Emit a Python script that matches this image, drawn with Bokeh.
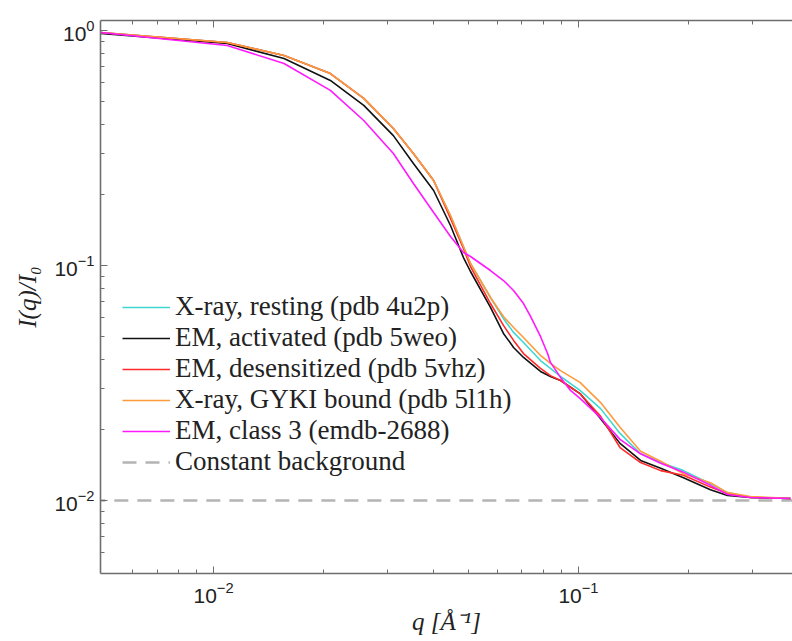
from bokeh.plotting import figure
from bokeh.models import (Range1d, LogAxis, FixedTicker, Legend, LegendItem,
                          CustomJSTickFormatter)
from bokeh.embed import file_html
from bokeh.resources import INLINE

# ---- data ----
q = [0.0049, 0.0109, 0.0156, 0.0209, 0.0258, 0.0311, 0.0353, 0.0401, 0.0446,
     0.0484, 0.0506, 0.0574, 0.0623, 0.0664, 0.0707, 0.0787, 0.0838, 0.0893,
     0.101, 0.115, 0.130, 0.148, 0.168, 0.194, 0.230, 0.256, 0.296, 0.381]

xray_resting = [0.981, 0.889, 0.783, 0.656, 0.514, 0.383, 0.2997, 0.2299, 0.1632,
                0.1204, 0.1020, 0.0731, 0.0595, 0.0519, 0.0470, 0.0394, 0.0365,
                0.0337, 0.0294, 0.0246, 0.0193, 0.0158, 0.0145, 0.0134, 0.0118,
                0.0108, 0.0103, 0.0102]
em_activated = [0.971, 0.880, 0.760, 0.613, 0.480, 0.357, 0.2716, 0.2085, 0.1480,
                0.1081, 0.0943, 0.0663, 0.0514, 0.0448, 0.0406, 0.0354, 0.0337,
                0.0324, 0.0285, 0.0223, 0.0175, 0.0148, 0.0137, 0.0125, 0.0111,
                0.0105, 0.0103, 0.0102]
em_desensitized = [0.981, 0.889, 0.783, 0.656, 0.514, 0.383, 0.2997, 0.2299, 0.1585,
                   0.1181, 0.0990, 0.0689, 0.0556, 0.0480, 0.0422, 0.0365, 0.0340,
                   0.0324, 0.0285, 0.0228, 0.0168, 0.0145, 0.0134, 0.0128, 0.0114,
                   0.0107, 0.0103, 0.0102]
xray_gyki = [0.981, 0.889, 0.783, 0.656, 0.514, 0.383, 0.2997, 0.2299, 0.1632,
             0.1204, 0.1020, 0.0731, 0.0607, 0.0545, 0.0494, 0.0414, 0.0383,
             0.0357, 0.0318, 0.0261, 0.0205, 0.0162, 0.0147, 0.0130, 0.0119,
             0.0108, 0.0104, 0.0102]

q_class3 = [0.0049, 0.0109, 0.0156, 0.0209, 0.0258, 0.0311, 0.0353, 0.0401,
            0.0446, 0.0484, 0.0506, 0.0574, 0.0623, 0.0664, 0.0707, 0.0739,
            0.0787, 0.0823, 0.0838, 0.0893, 0.0951, 0.101, 0.115, 0.130, 0.148,
            0.168, 0.194, 0.230, 0.256, 0.296, 0.381]
em_class3 = [0.981, 0.863, 0.724, 0.556, 0.414, 0.2997, 0.2233, 0.168, 0.1328,
             0.1136, 0.1092, 0.0952, 0.0863, 0.0783, 0.0689, 0.0607, 0.0499,
             0.0422, 0.0387, 0.0334, 0.0294, 0.0272, 0.0225, 0.0182, 0.0158,
             0.0144, 0.0132, 0.0116, 0.0106, 0.0103, 0.0102]

q_bg = [0.004, 0.5]
background = [0.01, 0.01]

labels = ["X-ray, resting (pdb 4u2p)", "EM, activated (pdb 5weo)",
          "EM, desensitized (pdb 5vhz)", "X-ray, GYKI bound (pdb 5l1h)",
          "EM, class 3 (emdb-2688)", "Constant background"]

x_major = [0.01, 0.1]
x_minor = [0.006, 0.007, 0.008, 0.009, 0.02, 0.03, 0.04, 0.05, 0.06, 0.07,
           0.08, 0.09, 0.2, 0.3]
y_major = [0.01, 0.1, 1.0]
y_minor = [0.006, 0.007, 0.008, 0.009, 0.02, 0.03, 0.04, 0.05, 0.06, 0.07,
           0.08, 0.09, 0.2, 0.3, 0.4, 0.5, 0.6, 0.7, 0.8, 0.9]

# ---- figure ----
p = figure(width=792, height=641, x_axis_type="log", y_axis_type="log",
           x_range=Range1d(0.0049, 0.386), y_range=Range1d(0.00489, 1.103),
           output_backend="svg", toolbar_location=None,
           min_border_left=100, min_border_right=0, min_border_top=20,
           min_border_bottom=68)
p.grid.visible = False
p.outline_line_color = None
p.background_fill_color = "white"

AX = "#6e6e6e"


def style(ax, ticks, minor):
    ax.ticker = FixedTicker(ticks=ticks, minor_ticks=minor)
    ax.axis_line_color = AX
    ax.axis_line_width = 1.6
    ax.major_tick_line_color = AX
    ax.minor_tick_line_color = AX
    ax.major_tick_in = 7
    ax.major_tick_out = 0
    ax.minor_tick_in = 4
    ax.minor_tick_out = 0
    ax.major_label_text_font = "Liberation Sans"
    ax.major_label_text_font_size = "21px"
    ax.major_label_text_color = "#222222"


style(p.xaxis[0], x_major, x_minor)
style(p.yaxis[0], y_major, y_minor)
p.xaxis[0].major_label_standoff = 8
p.yaxis[0].major_label_standoff = 6

p.xaxis[0].axis_label = "q [Å⁻¹]"
p.yaxis[0].axis_label = "I(q)/I₀"
for ax in (p.xaxis[0], p.yaxis[0]):
    ax.axis_label_text_font = "Liberation Serif"
    ax.axis_label_text_font_style = "italic"
    ax.axis_label_text_font_size = "25px"
    ax.axis_label_text_color = "#222222"
p.xaxis[0].axis_label_standoff = 2
p.yaxis[0].axis_label_standoff = 10

top = LogAxis()
style(top, x_major, x_minor)
top.major_label_text_font_size = "0px"
top.formatter = CustomJSTickFormatter(code="return ''")
top.major_label_standoff = 0
p.add_layout(top, "above")

# ---- lines ----
r_bg = p.line(q_bg, background, line_color="#b4b4b4", line_width=2.6,
              line_dash="14 9")
r1 = p.line(q, xray_resting, line_color="#3fd8d0", line_width=1.6)
r2 = p.line(q, em_activated, line_color="#111111", line_width=1.6)
r3 = p.line(q, em_desensitized, line_color="#ff2a2a", line_width=1.6)
r4 = p.line(q, xray_gyki, line_color="#ff9a3c", line_width=1.6)
r5 = p.line(q_class3, em_class3, line_color="#ff19ff", line_width=1.6)

items = [LegendItem(label=l, renderers=[r]) for l, r in
         zip(labels, [r1, r2, r3, r4, r5, r_bg])]
legend = Legend(items=items, location=(22, 96), padding=0, margin=0,
                spacing=0, glyph_width=48, glyph_height=20, label_height=20,
                label_standoff=5, border_line_color=None,
                background_fill_alpha=0,
                label_text_font="Liberation Serif",
                label_text_font_size="27px", label_text_line_height=1.1,
                label_text_color="#222222")
p.add_layout(legend, "center")

open("out.html", "w").write(file_html(p, INLINE))
